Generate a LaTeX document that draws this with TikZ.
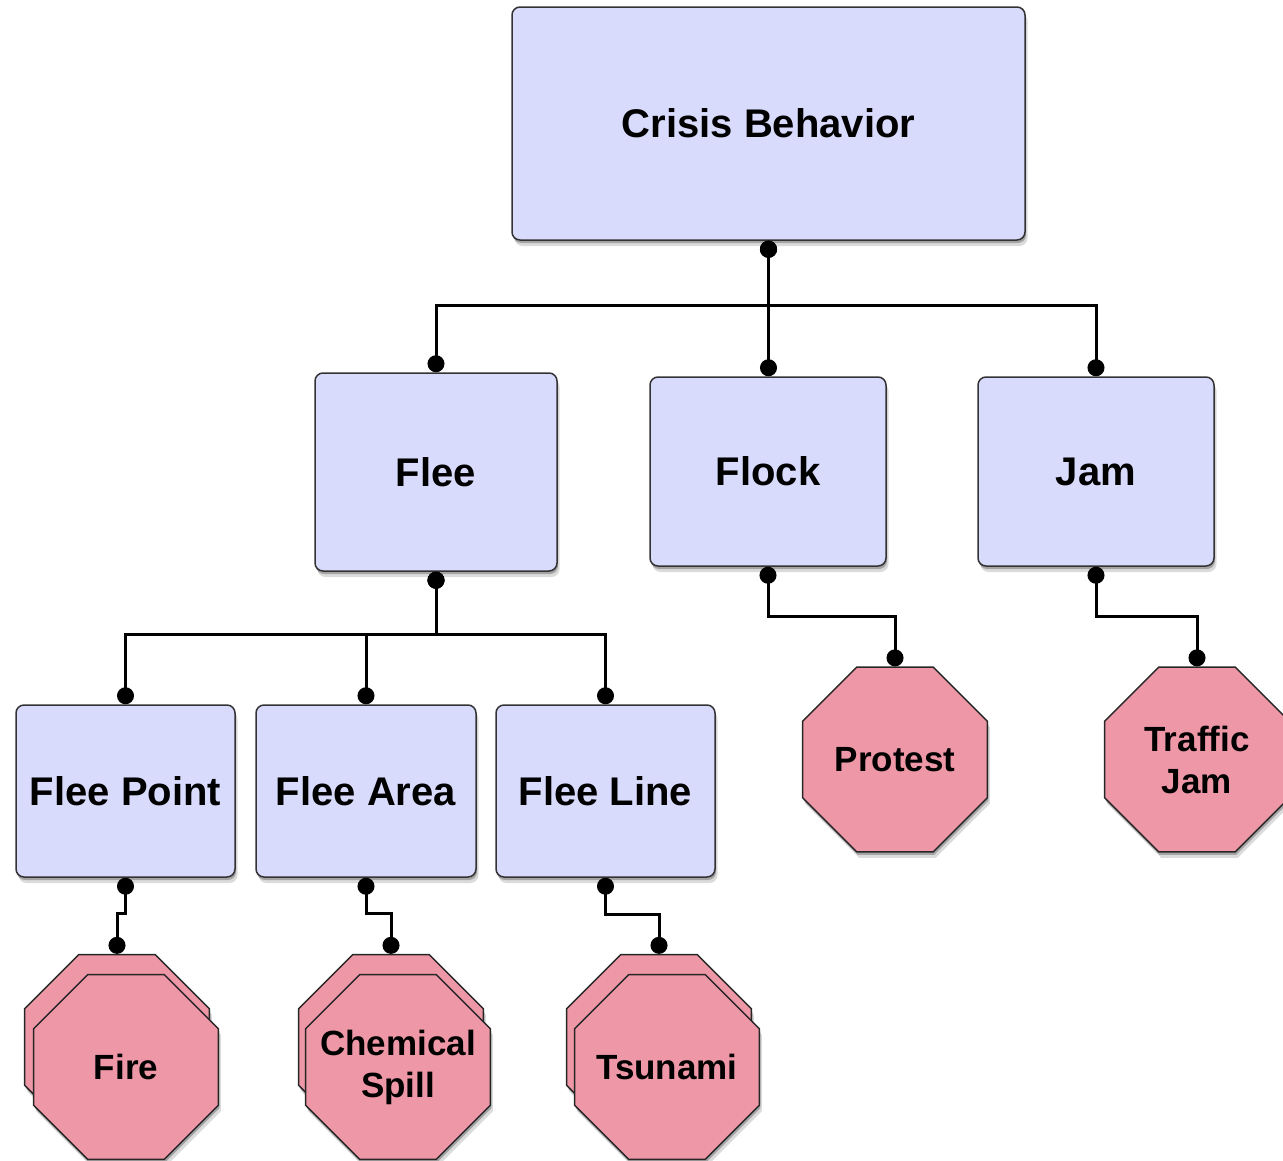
\documentclass[tikz,border=0pt]{standalone}
\usepackage{fontspec}
\setmainfont{Liberation Sans}
\usetikzlibrary{shapes.geometric,shadows,arrows.meta,calc}
\definecolor{boxfill}{RGB}{217,219,252}
\definecolor{octfill}{RGB}{238,151,166}
\begin{document}
\begin{tikzpicture}[x=1pt,y=-1pt,
  softshadow/.style={
    drop shadow={shadow xshift=1pt,shadow yshift=-3pt,opacity=0.25,fill=black},
    drop shadow={shadow xshift=2.5pt,shadow yshift=-6pt,opacity=0.14,fill=black}},
  cbox/.style={draw=black!80,line width=1.5pt,fill=boxfill,rounded corners=8pt,
    inner sep=2pt,softshadow,font=\bfseries\fontsize{40}{44}\selectfont},
  oct/.style={draw=black!85,line width=1.5pt,fill=octfill,regular polygon,
    regular polygon sides=8,minimum size=200pt,inner sep=0pt,softshadow},
  octtext/.style={align=center,inner sep=0pt,font=\bfseries\fontsize{35}{42}\selectfont},
  conn/.style={line width=3pt,{Circle[length=17pt]}-{Circle[length=17pt]}}
]
\useasboundingbox (0,0) rectangle (1283,1160);

% boxes
\node[cbox,minimum width=513pt,minimum height=233pt] (cb) at (768.5,123.5) {Crisis Behavior};
\node[cbox,minimum width=242pt,minimum height=198pt] (flee) at (436,472) {Flee};
\node[cbox,minimum width=236pt,minimum height=189pt] (flock) at (768,471.5) {Flock};
\node[cbox,minimum width=236pt,minimum height=189pt] (jam) at (1096,471.5) {Jam};
\node[cbox,minimum width=219pt,minimum height=172pt] (fp) at (125.5,791) {Flee Point};
\node[cbox,minimum width=220pt,minimum height=172pt] (fa) at (366,791) {Flee Area};
\node[cbox,minimum width=219pt,minimum height=172pt] (fl) at (605.5,791) {Flee Line};

% octagons
\node[oct] (protest) at (895,759.5) {};
\node[octtext] (protestt) at (protest.center) {Protest};
\node[oct] (tj) at (1197,759.5) {};
\node[octtext] (tjt) at (tj.center) {Traffic\\Jam};

\node[oct] (fireb) at (117,1047) {};
\node[oct] (fire) at (126,1067) {};
\node[octtext] (firet) at (fire.center) {Fire};

\node[oct] (chemb) at (391,1047) {};
\node[oct] (chem) at (398,1067) {};
\node[octtext] (chemt) at (chem.center) {Chemical\\Spill};

\node[oct] (tsub) at (659,1047) {};
\node[oct] (tsu) at (667,1067) {};
\node[octtext] (tsut) at (tsu.center) {Tsunami};

% connectors
\draw[conn] (cb.south) -- ++(0,65) -| (flee.north);
\draw[conn] (cb.south) -- (cb.south |- flock.north);
\draw[conn] (cb.south) -- ++(0,65) -| (jam.north);

\draw[conn] (flee.south) -- ++(0,63) -| (fp.north);
\draw[conn] (flee.south) -- ++(0,63) -| (fa.north);
\draw[conn] (flee.south) -- ++(0,63) -| (fl.north);

\draw[conn] (flock.south) -- ++(0,50) -| (protest.north);
\draw[conn] (jam.south) -- ++(0,50) -| (tj.north);

\draw[conn] (fp.south) -- ++(0,36) -| (fireb.north);
\draw[conn] (fa.south) -- ++(0,36) -| (chemb.north);
\draw[conn] (fl.south) -- ++(0,37) -| (tsub.north);
\end{tikzpicture}
\end{document}
